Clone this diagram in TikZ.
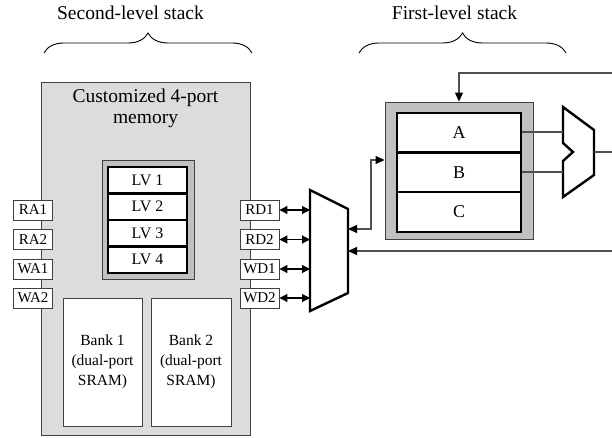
\documentclass[tikz,border=0pt]{standalone}
\usepackage{fontspec}
\setmainfont{Liberation Serif}
\usetikzlibrary{arrows.meta,decorations.pathreplacing}
\definecolor{memgray}{HTML}{DCDCDC}
\definecolor{stkgray}{HTML}{C0C0C0}
\definecolor{edgegray}{HTML}{404040}
\definecolor{linegray}{HTML}{505050}
\tikzset{
  membox/.style={draw=edgegray,line width=0.9pt,fill=memgray,inner sep=0pt},
  stkouter/.style={draw=edgegray,line width=0.9pt,fill=stkgray,inner sep=0pt},
  rowbox/.style={draw=black,line width=2.4pt,fill=white,inner sep=0pt},
  bankbox/.style={draw=edgegray,line width=0.9pt,fill=white,inner sep=0pt,align=center,
    font=\fontsize{15.5}{20}\selectfont},
  portbox/.style={draw=edgegray,line width=0.9pt,fill=white,inner sep=0pt,
    minimum width=39pt,minimum height=20pt,font=\fontsize{15}{17}\selectfont},
  muxline/.style={draw=black,line width=2.4pt,line join=miter,fill=white},
  head/.style={font=\fontsize{19.5}{21}\selectfont},
  lvtext/.style={font=\fontsize{16}{18}\selectfont},
  abctext/.style={font=\fontsize{18}{20}\selectfont},
  bracestyle/.style={draw=black,line width=0.9pt,decorate,decoration={brace,amplitude=20pt,aspect=0.5}},
  bhead/.tip={Triangle[length=9pt,width=8pt,color=black]},
  shead/.tip={Triangle[length=8pt,width=8pt,color=black]},
  tip/.style={-bhead},
  dtip/.style={shead-shead},
  conn/.style={draw=linegray,line width=1.1pt},
}
\begin{document}
\begin{tikzpicture}[x=1pt,y=-1pt]
\useasboundingbox (0,0) rectangle (612,438);

% headings and braces
\node[head] (h2) at (130.5,13) {Second-level stack};
\node[head] (h1) at (454.5,13) {First-level stack};
\coordinate (b2l) at (44,53);
\coordinate (b2r) at (252,53);
\coordinate (b1l) at (359,53);
\coordinate (b1r) at (566,53);
\draw[bracestyle] (b2l) -- (b2r);
\draw[bracestyle] (b1l) -- (b1r);

% second-level memory
\node[membox,minimum width=209pt,minimum height=353pt] (mem) at (145.5,258.5) {};
\node[head,align=center] (memt) at (145.5,108.5) {Customized 4-port\\memory};

\node[stkouter,minimum width=92pt,minimum height=119pt] (lvo) at (148,219.5) {};
\node[rowbox,minimum width=79pt,minimum height=106pt] (lvi) at (147.5,220) {};
\foreach \i/\y in {1/180.25,2/206.75,3/233.25,4/259.75}{
  \node[lvtext] (lv\i) at (147.5,\y) {LV \i};
}
\foreach \y in {193.5,220,246.5}{
  \draw[black,line width=2.4pt] (lvi.west |- 0,\y) -- (lvi.east |- 0,\y);
}

\node[bankbox,minimum width=79pt,minimum height=128pt] (bank1) at (102.5,362) {Bank 1\\(dual-port\\SRAM)};
\node[bankbox,minimum width=80pt,minimum height=128pt] (bank2) at (191,362) {Bank 2\\(dual-port\\SRAM)};

% ports
\foreach \n/\y in {RA1/210,RA2/239.5,WA1/269,WA2/298}{
  \node[portbox] (\n) at (33,\y) {\n};
}
\foreach \n/\y in {RD1/210,RD2/239.5,WD1/269,WD2/298}{
  \node[portbox] (\n) at (259.5,\y) {\n};
}

% big mux
\coordinate (m1tl) at (310,190);
\coordinate (m1tr) at (348,209);
\coordinate (m1br) at (348,293);
\coordinate (m1bl) at (310,311);
\path[muxline] (m1tl) -- (m1tr) -- (m1br) -- (m1bl) -- cycle;
\foreach \n in {RD1,RD2,WD1,WD2}{
  \coordinate (\n m) at (m1tl |- \n.east);
  \draw[dtip,black,line width=1.1pt] (\n.east) -- (\n m);
}

% first-level stack
\node[stkouter,minimum width=148pt,minimum height=137pt] (stko) at (459,170.5) {};
\node[rowbox,minimum width=124pt,minimum height=119pt] (stki) at (459,172.5) {};
\draw[black,line width=2.4pt] (stki.west |- 0,152.5) -- (stki.east |- 0,152.5);
\draw[black,line width=2.4pt] (stki.west |- 0,192) -- (stki.east |- 0,192);
\node[abctext] (A) at (459,133) {A};
\node[abctext] (B) at (459,172.5) {B};
\node[abctext] (C) at (459,212) {C};

% small mux
\coordinate (m2tl) at (563,107);
\coordinate (m2tr) at (594,130);
\coordinate (m2br) at (594,175);
\coordinate (m2bl) at (563,197);
\path[muxline] (m2tl) -- (m2tr) -- (m2br) -- (m2bl) -- (563,161) -- (573,152) -- (563,143) -- cycle;
\coordinate (m2a) at (563,132);
\coordinate (m2b) at (563,172);
\coordinate (m2o) at (594,152);
\coordinate (outR) at (612,152);
\draw[conn] (stki.east |- m2a) -- (m2a);
\draw[conn] (stki.east |- m2b) -- (m2b);
\draw[conn] (m2o) -- (outR);

% feedback lines
\coordinate (topR) at (612,73);
\coordinate (topC) at (459,73);
\draw[conn,tip] (topR) -- (topC) -- (stko.north);
\coordinate (botR) at (612,251);
\coordinate (botM) at (348,251);
\draw[conn,tip] (botR) -- (botM);

% stack <-> mux
\coordinate (sj1) at (371,160);
\coordinate (sj2) at (371,229);
\coordinate (m1s) at (348,229);
\draw[conn,bhead-bhead] (stko.west |- sj1) -- (sj1) -- (sj2) -- (m1s);
\end{tikzpicture}
\end{document}
